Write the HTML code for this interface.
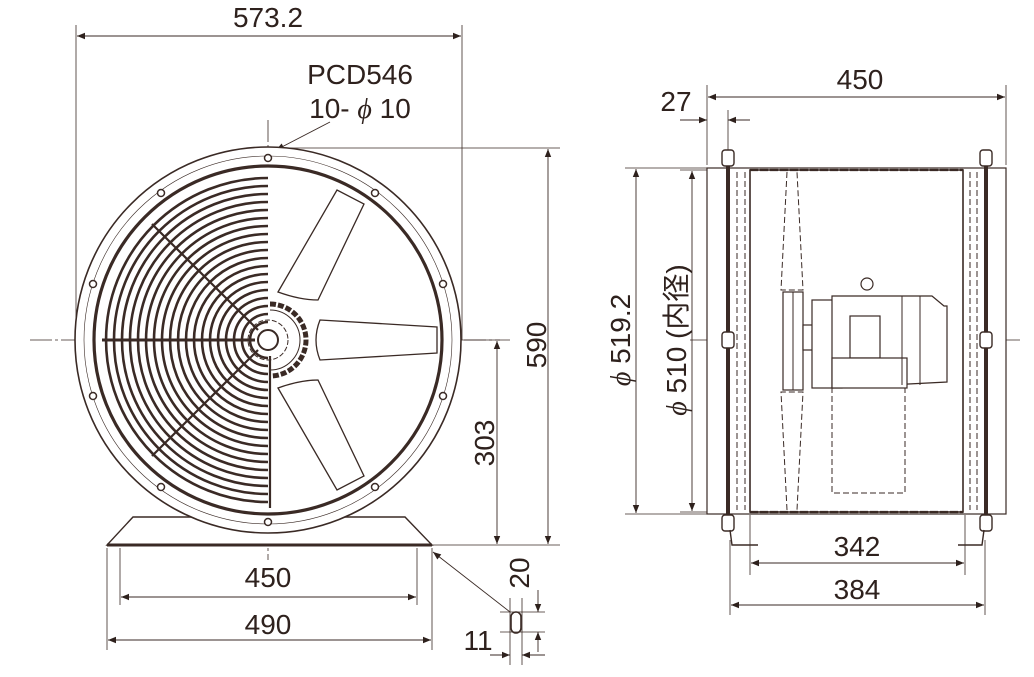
<!DOCTYPE html>
<html><head><meta charset="utf-8"><style>
html,body{margin:0;padding:0;background:#fff;}
svg{display:block;}
text{font-family:"Liberation Sans","Noto Sans CJK JP",sans-serif;fill:#2e211d;}
</style></head><body>
<svg width="1034" height="677" viewBox="0 0 1034 677" xmlns="http://www.w3.org/2000/svg">
<defs>
<marker id="a" viewBox="0 0 10 10" refX="10" refY="5" markerWidth="12" markerHeight="8" orient="auto-start-reverse" markerUnits="userSpaceOnUse"><path d="M0,1 L10,5 L0,9z" fill="#2e211d"/></marker>
</defs>
<g stroke="#3a2a25" fill="none">
<g stroke-width="0.8" stroke-dasharray="22 3 3 3">
<line x1="30" y1="340" x2="500" y2="340"/>
<line x1="268" y1="120" x2="268" y2="560"/>
<line x1="690" y1="340" x2="1020" y2="340"/>
</g>
<g stroke-width="0.8">
<line x1="76" y1="25" x2="76" y2="340"/>
<line x1="462" y1="25" x2="462" y2="340"/>
<line x1="280" y1="148" x2="560" y2="148"/>
<line x1="430" y1="545" x2="560" y2="545"/>
<line x1="270" y1="340" x2="510" y2="340"/>
<line x1="120" y1="548" x2="120" y2="605"/>
<line x1="417" y1="548" x2="417" y2="605"/>
<line x1="107" y1="548" x2="107" y2="650"/>
<line x1="432" y1="548" x2="432" y2="650"/>
<line x1="510" y1="598" x2="510" y2="665"/>
<line x1="522" y1="598" x2="522" y2="665"/>
<line x1="500" y1="612" x2="545" y2="612"/>
<line x1="500" y1="632" x2="545" y2="632"/>
<line x1="707" y1="85" x2="707" y2="165"/>
<line x1="728" y1="110" x2="728" y2="150"/>
<line x1="1006" y1="85" x2="1006" y2="165"/>
<line x1="625" y1="168" x2="720" y2="168"/>
<line x1="625" y1="514" x2="720" y2="514"/>
<line x1="680" y1="170" x2="750" y2="170"/>
<line x1="680" y1="512" x2="750" y2="512"/>
<line x1="750" y1="515" x2="750" y2="575"/>
<line x1="965" y1="515" x2="965" y2="575"/>
<line x1="730" y1="540" x2="730" y2="615"/>
<line x1="985" y1="540" x2="985" y2="615"/>
</g>
<g stroke-width="0.9" marker-start="url(#a)" marker-end="url(#a)">
<line x1="77" y1="36" x2="461" y2="36"/>
<line x1="548" y1="149" x2="548" y2="544"/>
<line x1="497" y1="341" x2="497" y2="544"/>
<line x1="121" y1="597" x2="416" y2="597"/>
<line x1="108" y1="640" x2="431" y2="640"/>
<line x1="708" y1="97" x2="1005" y2="97"/>
<line x1="636" y1="169" x2="636" y2="513"/>
<line x1="692" y1="171" x2="692" y2="511"/>
<line x1="751" y1="563" x2="964" y2="563"/>
<line x1="731" y1="605" x2="984" y2="605"/>
</g>
<g stroke-width="0.9">
<line x1="538" y1="590" x2="538" y2="612" marker-end="url(#a)"/>
<line x1="538" y1="652" x2="538" y2="632" marker-end="url(#a)"/>
<line x1="490" y1="655" x2="510" y2="655" marker-end="url(#a)"/>
<line x1="545" y1="655" x2="522" y2="655" marker-end="url(#a)"/>
<line x1="680" y1="120" x2="707" y2="120" marker-end="url(#a)"/>
<line x1="750" y1="120" x2="728" y2="120" marker-end="url(#a)"/>
<line x1="510" y1="612" x2="433" y2="552" marker-end="url(#a)"/>
<line x1="330" y1="122" x2="276" y2="150" marker-end="url(#a)"/>
</g>
<rect x="511" y="612" width="10" height="21" rx="5" stroke-width="1.6"/>

<path d="M133,517 L405,517 L432,545 L107,545 Z" stroke-width="1.4" fill="#fff"/>
<line x1="107" y1="545" x2="432" y2="545" stroke-width="3"/>
<circle cx="268" cy="340" r="193" stroke-width="1.6" fill="#fff"/>
<circle cx="268" cy="340" r="184" stroke-width="0.6"/>
<circle cx="268" cy="340" r="174" stroke-width="3.2"/>
<g stroke-width="1.5" fill="#fff">
<circle cx="268" cy="158" r="3.5"/><circle cx="268" cy="522" r="3.5"/>
<circle cx="375" cy="193" r="3.5"/><circle cx="161" cy="193" r="3.5"/>
<circle cx="375" cy="487" r="3.5"/><circle cx="161" cy="487" r="3.5"/>
<circle cx="443" cy="284" r="3.5"/><circle cx="93" cy="284" r="3.5"/>
<circle cx="443" cy="396" r="3.5"/><circle cx="93" cy="396" r="3.5"/>
</g>
<g stroke-width="2.6">
<path d="M268,322 A18,18 0 0 0 268,358"/>
<path d="M268,314 A26,26 0 0 0 268,366"/>
<path d="M268,306 A34,34 0 0 0 268,374"/>
<path d="M268,298 A42,42 0 0 0 268,382"/>
<path d="M268,290 A50,50 0 0 0 268,390"/>
<path d="M268,282 A58,58 0 0 0 268,398"/>
<path d="M268,274 A66,66 0 0 0 268,406"/>
<path d="M268,266 A74,74 0 0 0 268,414"/>
<path d="M268,258 A82,82 0 0 0 268,422"/>
<path d="M268,250 A90,90 0 0 0 268,430"/>
<path d="M268,242 A98,98 0 0 0 268,438"/>
<path d="M268,234 A106,106 0 0 0 268,446"/>
<path d="M268,226 A114,114 0 0 0 268,454"/>
<path d="M268,218 A122,122 0 0 0 268,462"/>
<path d="M268,210 A130,130 0 0 0 268,470"/>
<path d="M268,202 A138,138 0 0 0 268,478"/>
<path d="M268,194 A146,146 0 0 0 268,486"/>
<path d="M268,186 A154,154 0 0 0 268,494"/>
<path d="M268,178 A162,162 0 0 0 268,502"/>
</g>
<line x1="102" y1="340" x2="255" y2="340" stroke-width="3"/>
<line x1="152" y1="224" x2="258" y2="330" stroke-width="2.2"/>
<line x1="152" y1="456" x2="258" y2="350" stroke-width="2.2"/>
<line x1="270" y1="356" x2="270" y2="508" stroke-width="2.2"/>
<circle cx="268" cy="340" r="10" stroke-width="2" fill="#fff"/>
<g stroke-width="1.3" fill="#fff">
<path d="M278,292 L337,190 L364,204 L318,300 Q300,300 278,292Z"/>
<path d="M278,388 L337,490 L364,476 L318,380 Q300,380 278,388Z"/>
<path d="M320,320 L437,327 L437,353 L320,360 Q312,340 320,320Z"/>
</g>
<path d="M270,304 A36,36 0 0 1 270,376" stroke-width="5" stroke-dasharray="6 2"/>
<path d="M270,310 A30,30 0 0 1 270,370" stroke-width="1"/>
<circle cx="268" cy="340" r="20" stroke-width="1" stroke-dasharray="5 2"/>

<rect x="707" y="168" width="299" height="346" stroke-width="1.2" fill="#fff"/>
<rect x="750" y="170" width="213" height="342" stroke-width="1.6"/>
<line x1="750" y1="170" x2="963" y2="170" stroke-width="2.2" stroke-dasharray="8 2"/>
<line x1="750" y1="512" x2="963" y2="512" stroke-width="2.2" stroke-dasharray="8 2"/>
<line x1="728" y1="150" x2="728" y2="530" stroke-width="4"/>
<line x1="986" y1="150" x2="986" y2="530" stroke-width="4"/>
<g stroke-width="1" stroke-dasharray="6 3">
<line x1="737" y1="172" x2="737" y2="510"/>
<line x1="745" y1="172" x2="745" y2="510"/>
<line x1="977" y1="172" x2="977" y2="510"/>
<line x1="970" y1="172" x2="970" y2="510"/>
<path d="M787,172 L781,290 L803,290 L797,172"/>
<path d="M787,510 L781,392 L803,392 L797,510"/>
<rect x="832" y="388" width="73" height="105"/>
</g>
<g stroke-width="1.4" fill="#fff">
<rect x="722" y="150" width="12" height="16" rx="3"/><rect x="722" y="332" width="12" height="16" rx="3"/><rect x="722" y="515" width="12" height="16" rx="3"/>
<rect x="980" y="150" width="12" height="16" rx="3"/><rect x="980" y="332" width="12" height="16" rx="3"/><rect x="980" y="515" width="12" height="16" rx="3"/>
</g>
<path d="M730,530 L732,545 L758,545" stroke-width="1.4"/>
<path d="M984,530 L982,545 L958,545" stroke-width="1.4"/>
<g stroke-width="1.2" fill="#fff">
<rect x="783" y="292" width="20" height="98"/>
<rect x="803" y="325" width="10" height="25"/>
<rect x="812" y="300" width="30" height="88"/>
<path d="M832,296 L932,296 L944,306 L947,306 L947,382 L832,388 Z"/>
<rect x="850" y="316" width="30" height="42"/>
<rect x="832" y="358" width="75" height="30"/>
<circle cx="867" cy="284" r="6"/>
</g>
<g stroke-width="1"><line x1="902" y1="296" x2="902" y2="385"/><line x1="920" y1="296" x2="920" y2="385"/><line x1="793" y1="292" x2="793" y2="390"/></g>
</g>

<g font-size="28">
<text x="268" y="27" text-anchor="middle">573.2</text>
<text x="360" y="84" text-anchor="middle">PCD546</text>
<text x="360" y="118" text-anchor="middle">10- <tspan font-style="italic" font-family="Liberation Serif">ϕ</tspan> 10</text>
<text x="268" y="587" text-anchor="middle">450</text>
<text x="268" y="634" text-anchor="middle">490</text>
<text x="478" y="650" text-anchor="middle">11</text>
<text transform="translate(546,345) rotate(-90)" text-anchor="middle">590</text>
<text transform="translate(494,443) rotate(-90)" text-anchor="middle">303</text>
<text transform="translate(529,573) rotate(-90)" text-anchor="middle">20</text>
<text x="860" y="89" text-anchor="middle">450</text>
<text x="676" y="111" text-anchor="middle">27</text>
<text x="857" y="556" text-anchor="middle">342</text>
<text x="857" y="599" text-anchor="middle">384</text>
<text transform="translate(630,340) rotate(-90)" text-anchor="middle"><tspan font-style="italic" font-family="Liberation Serif">ϕ</tspan> 519.2</text>
<text transform="translate(686,340) rotate(-90)" text-anchor="middle"><tspan font-style="italic" font-family="Liberation Serif">ϕ</tspan> 510 (内径)</text>
</g>
</svg>
</body></html>
